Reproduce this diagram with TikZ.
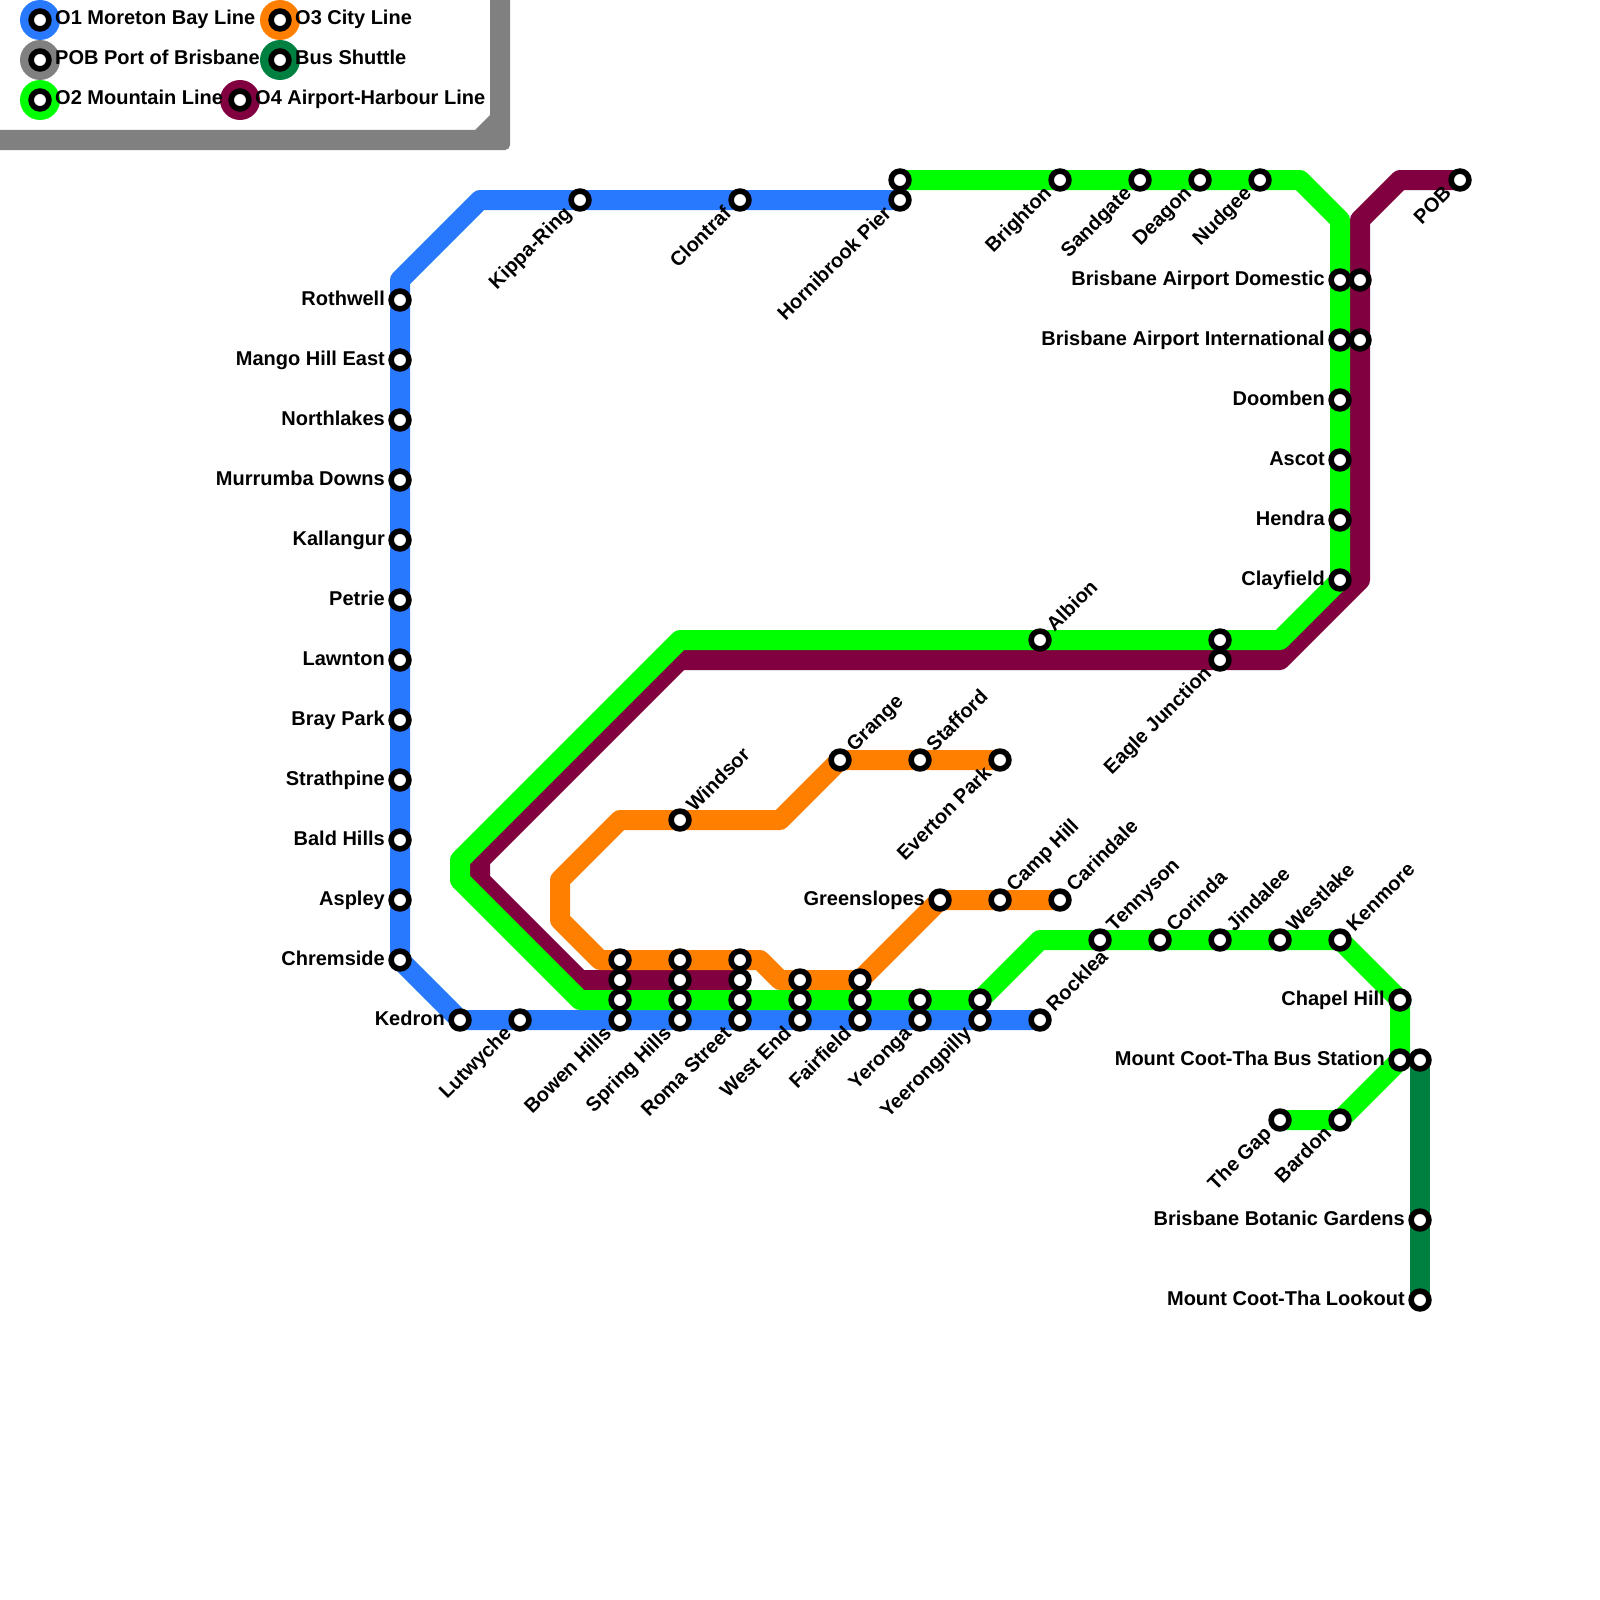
\documentclass[tikz,border=0pt]{standalone}
\usepackage{fontspec}
\setmainfont{Liberation Sans}
\usetikzlibrary{backgrounds}
\definecolor{lineblue}{RGB}{41,121,255}
\definecolor{linegray}{RGB}{128,128,128}
\definecolor{linegreen}{RGB}{0,255,0}
\definecolor{lineorange}{RGB}{255,128,0}
\definecolor{linebus}{RGB}{0,128,64}
\definecolor{linepurple}{RGB}{128,0,64}
\tikzset{
  stn/.style={draw=black, fill=white, circle, line width=5.6pt, inner sep=0pt, minimum size=17.8pt},
  legdot/.style={circle, inner sep=0pt, minimum size=40pt},
  lbltext/.style={font=\fontsize{20}{20}\selectfont\bfseries, inner sep=0pt, text height=14pt, text depth=4pt},
  lblw/.style={lbltext, anchor=east, xshift=-15pt},
  lble/.style={lbltext, anchor=west, xshift=15pt},
  lblsw/.style={lbltext, xshift=-11pt, yshift=-11pt, rotate=45, anchor=east},
  lblne/.style={lbltext, xshift=11pt, yshift=11pt, rotate=45, anchor=west},
  metro/.style={line width=20pt, line join=round, line cap=round}
}

\begin{document}
\begin{tikzpicture}[x=1pt, y=-1pt]
  \useasboundingbox (0,0) rectangle (1600,1600);

  % legend
  \fill[linegray] (490,0) -- (490,115) -- (475,130) -- (0,130) -- (0,150) [rounded corners=5pt] -- (510,150) [sharp corners] -- (510,0) -- cycle;
  \node[legdot, fill=lineblue] (leg1) at (40,20) {};
  \node[legdot, fill=linegray] (legp) at (40,60) {};
  \node[legdot, fill=linegreen] (leg2) at (40,100) {};
  \node[legdot, fill=lineorange] (leg3) at (280,20) {};
  \node[legdot, fill=linebus] (legb) at (280,60) {};
  \node[legdot, fill=linepurple] (leg4) at (240,100) {};
  \node[stn] (leg1s) at (leg1) {};
  \node[stn] (legps) at (legp) {};
  \node[stn] (leg2s) at (leg2) {};
  \node[stn] (leg3s) at (leg3) {};
  \node[stn] (legbs) at (legb) {};
  \node[stn] (leg4s) at (leg4) {};
  \node[lble] (leg1t) at (leg1) {O1 Moreton Bay Line};
  \node[lble] (legpt) at (legp) {POB Port of Brisbane};
  \node[lble] (leg2t) at (leg2) {O2 Mountain Line};
  \node[lble] (leg3t) at (leg3) {O3 City Line};
  \node[lble] (legbt) at (legb) {Bus Shuttle};
  \node[lble] (leg4t) at (leg4) {O4 Airport-Harbour Line};

  % moreton bay line
  \node[stn] (kipparing) at (580,200) {};
  \node[stn] (clontarf) at (740,200) {};
  \node[stn] (hornibrook) at (900,200) {};
  \node[stn] (rothwell) at (400,300) {};
  \node[stn] (mangohill) at (400,360) {};
  \node[stn] (northlakes) at (400,420) {};
  \node[stn] (murrumba) at (400,480) {};
  \node[stn] (kallangur) at (400,540) {};
  \node[stn] (petrie) at (400,600) {};
  \node[stn] (lawnton) at (400,660) {};
  \node[stn] (braypark) at (400,720) {};
  \node[stn] (strathpine) at (400,780) {};
  \node[stn] (baldhills) at (400,840) {};
  \node[stn] (aspley) at (400,900) {};
  \node[stn] (chremside) at (400,960) {};
  \node[stn] (kedron) at (460,1020) {};
  \node[stn] (lutwyche) at (520,1020) {};
  \node[stn] (bowenB) at (620,1020) {};
  \node[stn] (springB) at (680,1020) {};
  \node[stn] (romaB) at (740,1020) {};
  \node[stn] (westendB) at (800,1020) {};
  \node[stn] (fairfieldB) at (860,1020) {};
  \node[stn] (yerongaB) at (920,1020) {};
  \node[stn] (yeerongB) at (980,1020) {};
  \node[stn] (rocklea) at (1040,1020) {};

  % mountain line
  \node[stn] (hornibrookG) at (900,180) {};
  \node[stn] (brighton) at (1060,180) {};
  \node[stn] (sandgate) at (1140,180) {};
  \node[stn] (deagon) at (1200,180) {};
  \node[stn] (nudgee) at (1260,180) {};
  \node[stn] (domesticG) at (1340,280) {};
  \node[stn] (internatG) at (1340,340) {};
  \node[stn] (doomben) at (1340,400) {};
  \node[stn] (ascot) at (1340,460) {};
  \node[stn] (hendra) at (1340,520) {};
  \node[stn] (clayfield) at (1340,580) {};
  \node[stn] (eagleG) at (1220,640) {};
  \node[stn] (albion) at (1040,640) {};
  \node[stn] (bowenG) at (620,1000) {};
  \node[stn] (springG) at (680,1000) {};
  \node[stn] (romaG) at (740,1000) {};
  \node[stn] (westendG) at (800,1000) {};
  \node[stn] (fairfieldG) at (860,1000) {};
  \node[stn] (yerongaG) at (920,1000) {};
  \node[stn] (yeerongG) at (980,1000) {};
  \node[stn] (tennyson) at (1100,940) {};
  \node[stn] (corinda) at (1160,940) {};
  \node[stn] (jindalee) at (1220,940) {};
  \node[stn] (westlake) at (1280,940) {};
  \node[stn] (kenmore) at (1340,940) {};
  \node[stn] (chapelhill) at (1400,1000) {};
  \node[stn] (cootbusG) at (1400,1060) {};
  \node[stn] (bardon) at (1340,1120) {};
  \node[stn] (thegap) at (1280,1120) {};

  % city line
  \node[stn] (evertonpark) at (1000,760) {};
  \node[stn] (stafford) at (920,760) {};
  \node[stn] (grange) at (840,760) {};
  \node[stn] (windsor) at (680,820) {};
  \node[stn] (bowenO) at (620,960) {};
  \node[stn] (springO) at (680,960) {};
  \node[stn] (romaO) at (740,960) {};
  \node[stn] (westendO) at (800,980) {};
  \node[stn] (fairfieldO) at (860,980) {};
  \node[stn] (greenslopes) at (940,900) {};
  \node[stn] (camphill) at (1000,900) {};
  \node[stn] (carindale) at (1060,900) {};

  % airport-harbour line and bus
  \node[stn] (pob) at (1460,180) {};
  \node[stn] (domesticP) at (1360,280) {};
  \node[stn] (internatP) at (1360,340) {};
  \node[stn] (eagleP) at (1220,660) {};
  \node[stn] (bowenP) at (620,980) {};
  \node[stn] (springP) at (680,980) {};
  \node[stn] (romaP) at (740,980) {};
  \node[stn] (cootbusB) at (1420,1060) {};
  \node[stn] (botanic) at (1420,1220) {};
  \node[stn] (lookout) at (1420,1300) {};

  % labels
  \node[lblsw] (kipparingT) at (kipparing) {Kippa-Ring};
  \node[lblsw] (clontarfT) at (clontarf) {Clontraf};
  \node[lblsw] (hornibrookT) at (hornibrook) {Hornibrook Pier};
  \node[lblw] (rothwellT) at (rothwell) {Rothwell};
  \node[lblw] (mangohillT) at (mangohill) {Mango Hill East};
  \node[lblw] (northlakesT) at (northlakes) {Northlakes};
  \node[lblw] (murrumbaT) at (murrumba) {Murrumba Downs};
  \node[lblw] (kallangurT) at (kallangur) {Kallangur};
  \node[lblw] (petrieT) at (petrie) {Petrie};
  \node[lblw] (lawntonT) at (lawnton) {Lawnton};
  \node[lblw] (brayparkT) at (braypark) {Bray Park};
  \node[lblw] (strathpineT) at (strathpine) {Strathpine};
  \node[lblw] (baldhillsT) at (baldhills) {Bald Hills};
  \node[lblw] (aspleyT) at (aspley) {Aspley};
  \node[lblw] (chremsideT) at (chremside) {Chremside};
  \node[lblw] (kedronT) at (kedron) {Kedron};
  \node[lblsw] (lutwycheT) at (lutwyche) {Lutwyche};
  \node[lblsw] (bowenT) at (bowenB) {Bowen Hills};
  \node[lblsw] (springT) at (springB) {Spring Hills};
  \node[lblsw] (romaT) at (romaB) {Roma Street};
  \node[lblsw] (westendT) at (westendB) {West End};
  \node[lblsw] (fairfieldT) at (fairfieldB) {Fairfield};
  \node[lblsw] (yerongaT) at (yerongaB) {Yeronga};
  \node[lblsw] (yeerongT) at (yeerongB) {Yeerongpilly};
  \node[lblne] (rockleaT) at (rocklea) {Rocklea};
  \node[lblsw] (brightonT) at (brighton) {Brighton};
  \node[lblsw] (sandgateT) at (sandgate) {Sandgate};
  \node[lblsw] (deagonT) at (deagon) {Deagon};
  \node[lblsw] (nudgeeT) at (nudgee) {Nudgee};
  \node[lblw] (domesticT) at (domesticG) {Brisbane Airport Domestic};
  \node[lblw] (internatT) at (internatG) {Brisbane Airport International};
  \node[lblw] (doombenT) at (doomben) {Doomben};
  \node[lblw] (ascotT) at (ascot) {Ascot};
  \node[lblw] (hendraT) at (hendra) {Hendra};
  \node[lblw] (clayfieldT) at (clayfield) {Clayfield};
  \node[lblsw] (eagleT) at (eagleP) {Eagle Junction};
  \node[lblne] (albionT) at (albion) {Albion};
  \node[lblne] (tennysonT) at (tennyson) {Tennyson};
  \node[lblne] (corindaT) at (corinda) {Corinda};
  \node[lblne] (jindaleeT) at (jindalee) {Jindalee};
  \node[lblne] (westlakeT) at (westlake) {Westlake};
  \node[lblne] (kenmoreT) at (kenmore) {Kenmore};
  \node[lblw] (chapelhillT) at (chapelhill) {Chapel Hill};
  \node[lblw] (cootbusT) at (cootbusG) {Mount Coot-Tha Bus Station};
  \node[lblsw] (bardonT) at (bardon) {Bardon};
  \node[lblsw] (thegapT) at (thegap) {The Gap};
  \node[lblsw] (evertonT) at (evertonpark) {Everton Park};
  \node[lblne] (staffordT) at (stafford) {Stafford};
  \node[lblne] (grangeT) at (grange) {Grange};
  \node[lblne] (windsorT) at (windsor) {Windsor};
  \node[lblw] (greenslopesT) at (greenslopes) {Greenslopes};
  \node[lblne] (camphillT) at (camphill) {Camp Hill};
  \node[lblne] (carindaleT) at (carindale) {Carindale};
  \node[lblsw] (pobT) at (pob) {POB};
  \node[lblw] (botanicT) at (botanic) {Brisbane Botanic Gardens};
  \node[lblw] (lookoutT) at (lookout) {Mount Coot-Tha Lookout};

  % bends
  \coordinate (b1a) at (480,200);
  \coordinate (b1b) at (400,280);
  \coordinate (g1a) at (1300,180);
  \coordinate (g1b) at (1340,220);
  \coordinate (g1c) at (1280,640);
  \coordinate (g1d) at (680,640);
  \coordinate (g1e) at (460,860);
  \coordinate (g1f) at (460,880);
  \coordinate (g1g) at (580,1000);
  \coordinate (g1h) at (980,1000);
  \coordinate (g1i) at (1040,940);
  \coordinate (o1a) at (840,760);
  \coordinate (o1b) at (780,820);
  \coordinate (o1c) at (620,820);
  \coordinate (o1d) at (560,880);
  \coordinate (o1e) at (560,920);
  \coordinate (o1f) at (600,960);
  \coordinate (o1g) at (760,960);
  \coordinate (o1h) at (780,980);
  \coordinate (p1a) at (1400,180);
  \coordinate (p1b) at (1360,220);
  \coordinate (p1c) at (1360,580);
  \coordinate (p1d) at (1280,660);
  \coordinate (p1e) at (680,660);
  \coordinate (p1f) at (480,860);
  \coordinate (p1g) at (480,880);
  \coordinate (p1h) at (580,980);

  \begin{scope}[on background layer]
    \draw[metro, linepurple] (pob.center) -- (p1a) -- (p1b) -- (p1c) -- (p1d) -- (p1e) -- (p1f) -- (p1g) -- (p1h) -- (romaP.center);
    \draw[metro, linebus] (cootbusB.center) -- (botanic.center) -- (lookout.center);
    \draw[metro, lineblue] (hornibrook.center) -- (b1a) -- (b1b) -- (chremside.center) -- (kedron.center) -- (rocklea.center);
    \draw[metro, lineorange] (evertonpark.center) -- (o1a) -- (o1b) -- (o1c) -- (o1d) -- (o1e) -- (o1f) -- (o1g) -- (o1h) -- (fairfieldO.center) -- (greenslopes.center) -- (carindale.center);
    \draw[metro, linegreen] (hornibrookG.center) -- (g1a) -- (g1b) -- (clayfield.center) -- (g1c) -- (g1d) -- (g1e) -- (g1f) -- (g1g) -- (g1h) -- (g1i) -- (kenmore.center) -- (chapelhill.center) -- (cootbusG.center) -- (bardon.center) -- (thegap.center);
  \end{scope}
\end{tikzpicture}
\end{document}
